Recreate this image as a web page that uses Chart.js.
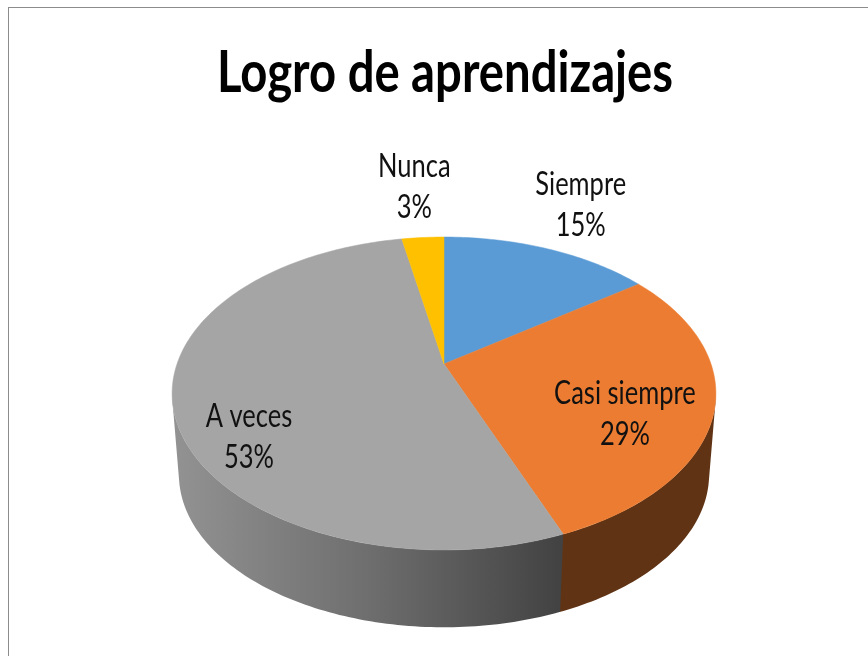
<!DOCTYPE html>
<html>
<head>
<meta charset="utf-8">
<style>
html,body{margin:0;padding:0;background:#fff;overflow:hidden;width:868px;height:656px}
#frame{position:absolute;left:8px;top:7px;width:900px;height:700px;border:1px solid #8c8c8c}
canvas{position:absolute;left:0;top:0}
</style>
<script src="https://cdn.jsdelivr.net/npm/chart.js@4/dist/chart.umd.min.js"></script>
</head>
<body>
<div id="frame"></div>
<canvas id="c" width="868" height="656"></canvas>
<script>
const titleText = 'Logro de aprendizajes';
const categories = ['Siempre', 'Casi siempre', 'A veces', 'Nunca'];
const percentages = [15, 29, 53, 3];
const topColors = ['#5B9BD5', '#EB7C31', '#A5A5A5', '#FFC000'];
const wallColors = ['#2F5F8A', '#5F3314', null, '#8A6800'];

// Perspective view of the unit disc (style only, the angles come from the chart's arcs)
const view = {
  top:  {cx: 444, cy: 364, a: 267, b: 150.9, k: -0.1885},
  base: {cx: 444, cy: 446, a: 260.3, b: 147.1, k: -0.1885}
};
const project = (p, ang, r = 1) => {
  const u = r * Math.cos(ang), v = r * Math.sin(ang), w = 1 + p.k * v;
  return [p.cx + p.a * u / w, p.cy + p.b * v / w];
};
const STEP = Math.PI / 180;
const anglesBetween = (s, e) => {
  const out = [], n = Math.max(2, Math.ceil((e - s) / STEP));
  for (let i = 0; i <= n; i++) out.push(s + (e - s) * i / n);
  return out;
};
// the wall is only visible between the two side extremes of the disc
const visFrom = Math.asin(-view.top.k);
const visTo = Math.PI - visFrom;
// label placement: radius on the disc and angular shift from the slice middle (degrees)
const labelRadius = [1.463, 0.71, 0.803, 1.513];
const labelShift = [-1.1, 9.9, -17.3, 0];

const pie3d = {
  id: 'pie3d',
  beforeDraw(chart) {
    const t = chart.titleBlock;
    if (t && !t._squeezed) {
      const orig = t.draw.bind(t);
      t.draw = function () {
        const ctx = chart.ctx;
        ctx.save();
        ctx.translate(445, 0);
        ctx.scale(0.814, 1);
        ctx.translate(-445, 0);
        orig();
        ctx.restore();
      };
      t._squeezed = true;
    }
  },
  beforeDatasetDraw(chart) {
    const ctx = chart.ctx;
    const arcs = chart.getDatasetMeta(0).data;
    const grey = ctx.createLinearGradient(176, 0, 562, 0);
    grey.addColorStop(0, '#929292');
    grey.addColorStop(0.5, '#6E6E6E');
    grey.addColorStop(1, '#424242');
    // side walls: one path of equally oriented quads, so that they fill as a union
    arcs.forEach((arc, i) => {
      const s = Math.max(arc.startAngle, visFrom);
      const e = Math.min(arc.endAngle + 0.006, visTo);
      if (e <= s) return;
      const angs = anglesBetween(s, e);
      ctx.beginPath();
      for (let j = 0; j < angs.length - 1; j++) {
        const q = [project(view.top, angs[j]), project(view.top, angs[j + 1]),
                   project(view.base, angs[j + 1]), project(view.base, angs[j])];
        let area = 0;
        q.forEach((p, n) => {
          const r = q[(n + 1) % 4];
          area += p[0] * r[1] - r[0] * p[1];
        });
        if (area < 0) q.reverse();
        ctx.moveTo(q[0][0], q[0][1]);
        q.slice(1).forEach(p => ctx.lineTo(p[0], p[1]));
        ctx.closePath();
      }
      ctx.fillStyle = wallColors[i] || grey;
      ctx.fill();
    });
    // top face
    arcs.forEach((arc, i) => {
      ctx.beginPath();
      ctx.moveTo(view.top.cx, view.top.cy);
      anglesBetween(arc.startAngle, arc.endAngle).forEach(an => {
        const p = project(view.top, an);
        ctx.lineTo(p[0], p[1]);
      });
      ctx.closePath();
      ctx.fillStyle = topColors[i];
      ctx.strokeStyle = topColors[i];
      ctx.lineWidth = 0.5;
      ctx.fill();
      ctx.stroke();
    });
    return false;
  },
  afterDatasetsDraw(chart) {
    const ctx = chart.ctx;
    const arcs = chart.getDatasetMeta(0).data;
    const total = percentages.reduce((s, x) => s + x, 0);
    ctx.save();
    ctx.fillStyle = '#111';
    ctx.font = '32px Lato';
    ctx.textAlign = 'center';
    ctx.textBaseline = 'middle';
    arcs.forEach((arc, i) => {
      const mid = (arc.startAngle + arc.endAngle) / 2 + labelShift[i] * Math.PI / 180;
      const [x, y] = project(view.top, mid, labelRadius[i]);
      const pct = Math.round(percentages[i] / total * 100) + '%';
      [[categories[i], y - 20.5], [pct, y + 20.5]].forEach(([txt, ty]) => {
        ctx.save();
        ctx.translate(x, ty);
        ctx.scale(0.797, 1);
        ctx.fillText(txt, 0, 0);
        ctx.restore();
      });
    });
    ctx.restore();
  }
};

new Chart(document.getElementById('c'), {
  type: 'pie',
  data: {
    labels: categories,
    datasets: [{data: percentages, backgroundColor: topColors, borderWidth: 0}]
  },
  options: {
    responsive: false,
    animation: false,
    devicePixelRatio: 1,
    layout: {padding: {left: 22, top: 0}},
    plugins: {
      legend: {display: false},
      tooltip: {enabled: false},
      title: {
        display: true,
        text: titleText,
        color: '#000',
        font: {family: 'Lato', size: 58, weight: 'bold'},
        padding: {top: 38, bottom: 20}
      }
    }
  },
  plugins: [pie3d]
});
</script>
</body>
</html>
